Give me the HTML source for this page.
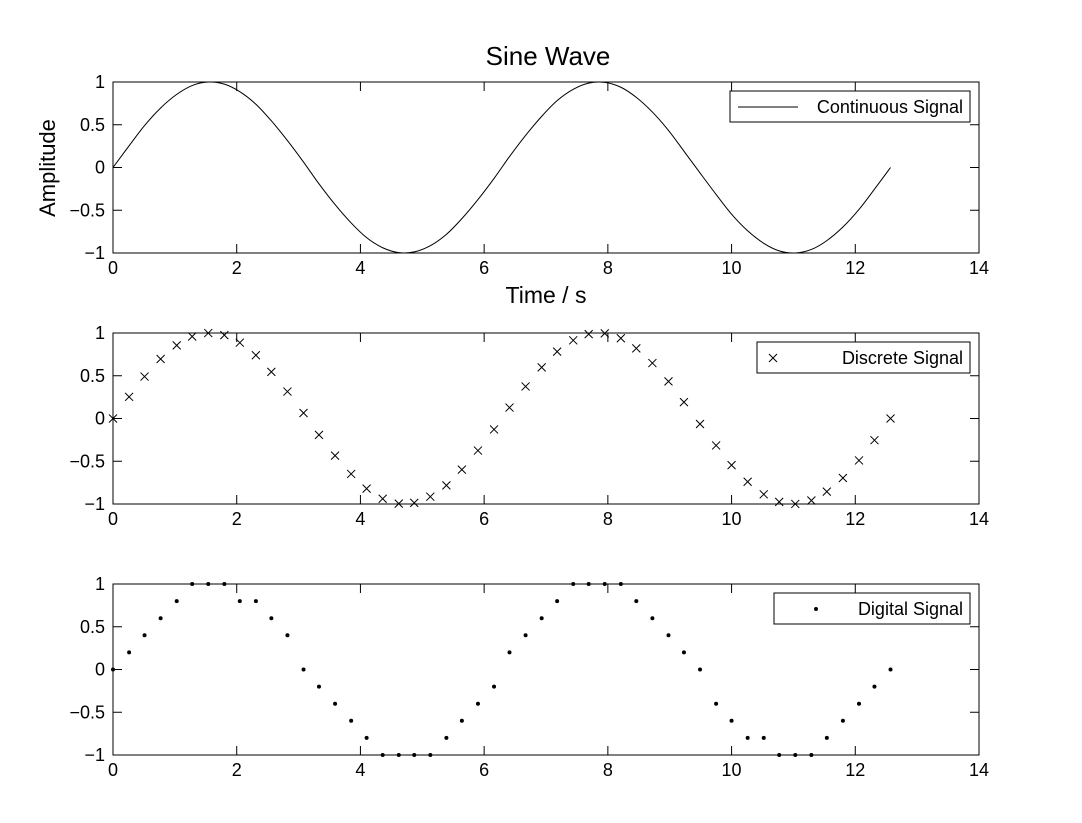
<!DOCTYPE html>
<html><head><meta charset="utf-8"><style>
body{margin:0;background:#fff}
svg{display:block;font-family:"Liberation Sans",Arial,sans-serif}
</style></head><body>
<svg id="fig" width="1082" height="823"></svg>
<script>
const times=[0,0.26,0.51,0.77,1.03,1.28,1.54,1.80,2.05,2.31,2.56,2.82,3.08,3.33,3.59,3.85,4.10,4.36,4.62,4.87,5.13,5.39,5.64,5.90,6.16,6.41,6.67,6.93,7.18,7.44,7.69,7.95,8.21,8.46,8.72,8.98,9.23,9.49,9.75,10.00,10.26,10.52,10.77,11.03,11.29,11.54,11.80,12.06,12.31,12.57];
const continuous=[0,0.2536,0.4907,0.6963,0.8551,0.9587,0.9995,0.9749,0.8866,0.7402,0.5455,0.3151,0.0640,-0.1912,-0.4338,-0.6482,-0.8202,-0.9385,-0.9954,-0.9872,-0.9144,-0.7818,-0.5981,-0.3752,-0.1279,0.1279,0.3752,0.5981,0.7818,0.9144,0.9872,0.9954,0.9385,0.8202,0.6482,0.4338,0.1912,-0.0640,-0.3151,-0.5455,-0.7402,-0.8866,-0.9749,-0.9995,-0.9587,-0.8551,-0.6963,-0.4907,-0.2536,0];
const discrete=[0,0.2536,0.4907,0.6963,0.8551,0.9587,0.9995,0.9749,0.8866,0.7402,0.5455,0.3151,0.0640,-0.1912,-0.4338,-0.6482,-0.8202,-0.9385,-0.9954,-0.9872,-0.9144,-0.7818,-0.5981,-0.3752,-0.1279,0.1279,0.3752,0.5981,0.7818,0.9144,0.9872,0.9954,0.9385,0.8202,0.6482,0.4338,0.1912,-0.0640,-0.3151,-0.5455,-0.7402,-0.8866,-0.9749,-0.9995,-0.9587,-0.8551,-0.6963,-0.4907,-0.2536,0];
const digital=[0,0.2,0.4,0.6,0.8,1,1,1,0.8,0.8,0.6,0.4,0,-0.2,-0.4,-0.6,-0.8,-1,-1,-1,-1,-0.8,-0.6,-0.4,-0.2,0.2,0.4,0.6,0.8,1,1,1,1,0.8,0.6,0.4,0.2,0,-0.4,-0.6,-0.8,-0.8,-1,-1,-1,-0.8,-0.6,-0.4,-0.2,0];
const xTicks=[0,2,4,6,8,10,12,14];
const yTicks=[-1,-0.5,0,0.5,1];
const yTickLabels=["\u22121","\u22120.5","0","0.5","1"];

const NS="http://www.w3.org/2000/svg";
const svg=document.getElementById('fig');
function mk(tag,attrs,parent){const e=document.createElementNS(NS,tag);for(const k in attrs)e.setAttribute(k,attrs[k]);(parent||svg).appendChild(e);return e;}
const X0=113,X1=979;
function xs(v){return X0+(v-0)/14*(X1-X0);}
const panels=[{top:82,name:'continuous'},{top:333,name:'discrete'},{top:584,name:'digital'}];
const H=171;
panels.forEach((p,i)=>{
  const g=mk('g',{});
  
  
  const ys=v=>p.top+H-(v+1)/2*H;
  p.ys=ys;p.g=g;
  mk('rect',{x:X0,y:p.top,width:X1-X0,height:H,fill:'#fff',stroke:'#000','stroke-width':1},g);
  xTicks.forEach(t=>{
    const x=xs(t);
    mk('line',{x1:x,x2:x,y1:p.top+H,y2:p.top+H-9,stroke:'#000'},g);
    mk('line',{x1:x,x2:x,y1:p.top,y2:p.top+9,stroke:'#000'},g);
    const tx=mk('text',{x:x,y:p.top+H+21,'text-anchor':'middle','font-size':18},g);
    tx.textContent=t;
    
    
  });
  yTicks.forEach((t,j)=>{
    const y=ys(t);
    mk('line',{x1:X0,x2:X0+9,y1:y,y2:y,stroke:'#000'},g);
    mk('line',{x1:X1,x2:X1-9,y1:y,y2:y,stroke:'#000'},g);
    const tx=mk('text',{x:X0-8,y:y+6,'text-anchor':'end','font-size':18},g);
    tx.textContent=yTickLabels[j];
    
    
  });
});
(function(){
  const p=panels[0];
  const pts=times.map((t,i)=>[xs(t),p.ys(continuous[i])]);
  let d='M'+pts[0][0]+','+pts[0][1];
  for(let i=0;i<pts.length-1;i++){
    const p0=pts[Math.max(0,i-1)],p1=pts[i],p2=pts[i+1],p3=pts[Math.min(pts.length-1,i+2)];
    const c1=[p1[0]+(p2[0]-p0[0])/6,p1[1]+(p2[1]-p0[1])/6];
    const c2=[p2[0]-(p3[0]-p1[0])/6,p2[1]-(p3[1]-p1[1])/6];
    d+=' C'+c1+' '+c2+' '+p2;
  }
  const path=mk('path',{d:d,fill:'none',stroke:'#000','stroke-width':1},p.g);
  
  
})();
times.forEach((t,i)=>{
  const p=panels[1];const x=xs(t),y=p.ys(discrete[i]);
  const m=mk('path',{d:`M${x-4},${y-4}L${x+4},${y+4}M${x-4},${y+4}L${x+4},${y-4}`,stroke:'#000','stroke-width':1},p.g);
  
  
});
times.forEach((t,i)=>{
  const p=panels[2];
  const c=mk('circle',{cx:xs(t),cy:p.ys(digital[i]),r:2,fill:'#000'},p.g);
  
  
});
function legend(x,y,w,label,kind){
  const g=mk('g',{});
  
  
  mk('rect',{x:x,y:y,width:w,height:31,fill:'#fff',stroke:'#000'},g);
  const cy=y+16;
  if(kind==='continuous')mk('line',{x1:x+8,x2:x+68,y1:cy,y2:cy,stroke:'#000'},g);
  if(kind==='discrete')mk('path',{d:`M${x+12},${cy-4}L${x+20},${cy+4}M${x+12},${cy+4}L${x+20},${cy-4}`,stroke:'#000'},g);
  if(kind==='digital')mk('circle',{cx:x+42,cy:cy,r:2,fill:'#000'},g);
  const t=mk('text',{x:x+w-7,y:cy+6,'text-anchor':'end','font-size':18},g);
  t.textContent=label;
}
legend(730,91,240,'Continuous Signal','continuous');
legend(757,342,213,'Discrete Signal','discrete');
legend(774,593,196,'Digital Signal','digital');
let t=mk('text',{x:548,y:65,'text-anchor':'middle','font-size':26});t.textContent='Sine Wave';

t=mk('text',{x:546,y:303,'text-anchor':'middle','font-size':23});t.textContent='Time / s';

t=mk('text',{x:55,y:168,'text-anchor':'middle','font-size':22,transform:'rotate(-90 55 168)'});t.textContent='Amplitude';

</script>
</body></html>
